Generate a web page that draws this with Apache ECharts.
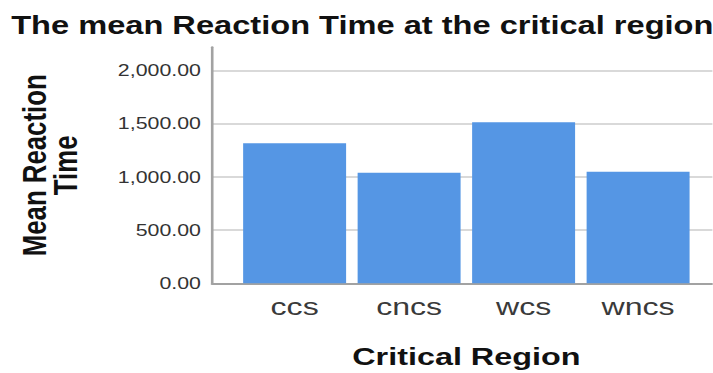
<!DOCTYPE html>
<html>
<head>
<meta charset="utf-8">
<title>The mean Reaction Time at the critical region</title>
<script src="https://cdn.jsdelivr.net/npm/echarts@6/dist/echarts.min.js"></script>
<style>
  html, body { margin: 0; padding: 0; background: #fff; overflow: hidden; }
  /* The chart is laid out narrower and widened horizontally by STRETCH_X */
  #chart { width: 544.3px; height: 373px; transform-origin: 0 0; }
</style>
</head>
<body>
<div id="chart"></div>
<script>
// Mean reaction time per critical region condition
const categories = ['ccs', 'cncs', 'wcs', 'wncs'];
const meanReactionTime = [1317, 1040, 1515, 1050];

// Value axis
const yMin = 0;
const yMax = 2220;
const yStep = 500;

const titleText = 'The mean Reaction Time at the critical region';
const yName = 'Mean Reaction\nTime';
const xName = 'Critical Region';

const STRETCH_X = 1.31;
const el = document.getElementById('chart');
el.style.transform = 'scaleX(' + STRETCH_X + ')';

const FONT = '"Liberation Sans", Arial, sans-serif';
const fmt = v => v.toLocaleString('en-US', { minimumFractionDigits: 2, maximumFractionDigits: 2 });

const plotTop = 47.3;
const plotBottom = 89.7;

const chart = echarts.init(el, null, { renderer: 'svg' });
chart.setOption({
  animation: false,
  backgroundColor: '#ffffff',
  title: {
    text: titleText,
    left: 3.5,
    top: 7.5,
    textStyle: { fontFamily: FONT, fontWeight: 'bold', fontSize: 24.9, color: '#111' }
  },
  grid: [
    // frame with the value axis and grid lines
    { left: 161.8, right: 0, top: plotTop, bottom: plotBottom, outerBoundsMode: 'none' },
    // inner band where the bars sit
    { left: 181.2, right: 13.2, top: plotTop, bottom: plotBottom, outerBoundsMode: 'none' }
  ],
  xAxis: [
    {
      gridIndex: 0, type: 'value', min: 0, max: 1,
      axisLine: { show: true, lineStyle: { color: '#a2a2a2', width: 2 } },
      axisTick: { show: false }, axisLabel: { show: false }, splitLine: { show: false }
    },
    {
      gridIndex: 1, type: 'category', data: categories,
      axisLine: { show: false }, axisTick: { show: false },
      axisLabel: { fontFamily: FONT, fontSize: 24.5, color: '#3a3a3a', margin: 11 },
      name: xName, nameLocation: 'middle', nameGap: 61,
      nameTextStyle: { fontFamily: FONT, fontWeight: 'bold', fontSize: 24.7, color: '#111' }
    }
  ],
  yAxis: [
    {
      gridIndex: 0, type: 'value', min: yMin, max: yMax, interval: yStep,
      axisLine: { show: true, lineStyle: { color: '#a2a2a2', width: 2 } },
      axisTick: { show: false },
      axisLabel: {
        fontFamily: FONT, fontSize: 16.3, color: '#333', margin: 8.4,
        formatter: fmt, showMaxLabel: false, padding: [6, 0, 0, 0]
      },
      splitLine: { show: true, showMaxLine: false, lineStyle: { color: '#cdcdcd', width: 1.6 } },
      name: yName, nameLocation: 'middle', nameRotate: 90, nameGap: 100,
      nameTextStyle: { fontFamily: FONT, fontWeight: 'bold', fontSize: 25.8, color: '#111', lineHeight: 24 }
    },
    {
      gridIndex: 1, type: 'value', min: yMin, max: yMax, interval: yStep, show: false
    }
  ],
  series: [{
    type: 'bar',
    xAxisIndex: 1, yAxisIndex: 1,
    data: meanReactionTime,
    barWidth: 78.6,
    itemStyle: { color: '#5596e4' }
  }]
});
</script>
</body>
</html>
